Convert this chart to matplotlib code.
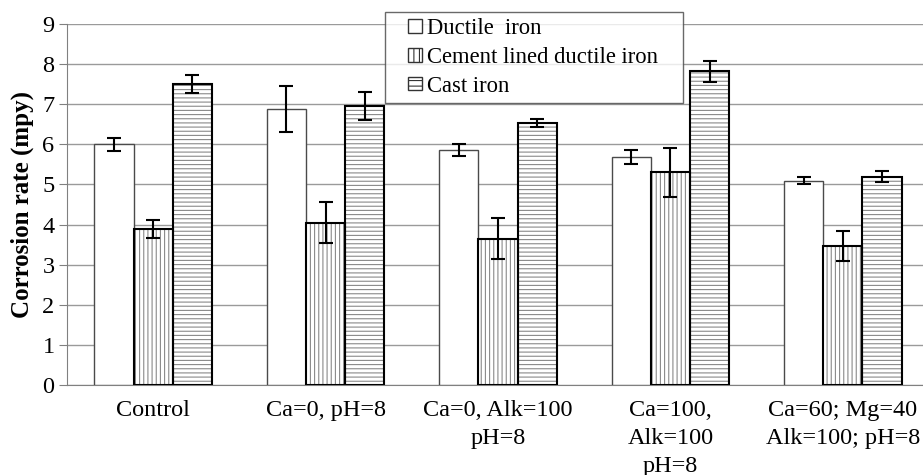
import matplotlib
matplotlib.use("Agg")
import matplotlib.pyplot as plt
import numpy as np
from matplotlib.patches import Patch, Rectangle
from matplotlib.legend_handler import HandlerPatch

plt.rcParams['font.family'] = ['Liberation Serif', 'DejaVu Serif']
plt.rcParams['hatch.linewidth'] = 0.8

categories = ["Control", "Ca=0, pH=8", "Ca=0, Alk=100\npH=8", "Ca=100,\nAlk=100\npH=8", "Ca=60; Mg=40\nAlk=100; pH=8"]
series_names = ["Ductile  iron", "Cement lined ductile iron", "Cast iron"]
ductile = [6.0, 6.88, 5.85, 5.69, 5.09]
ductile_err = [0.17, 0.57, 0.15, 0.17, 0.09]
cement = [3.89, 4.05, 3.65, 5.30, 3.47]
cement_err = [0.22, 0.52, 0.52, 0.62, 0.37]
cast = [7.5, 6.96, 6.52, 7.82, 5.19]
cast_err = [0.22, 0.35, 0.10, 0.27, 0.14]
yticks = list(range(0, 10))

fig = plt.figure(figsize=(9.23, 4.75), dpi=100)
ax = fig.add_axes([67/923, 90/475, (929-67)/923, (385-24)/475])

x = np.arange(len(categories))
w = 0.227
hatch_gray = '#8a8a8a'

ax.bar(x - w, ductile, w, color='white', edgecolor='#4a4a4a', linewidth=1.0, zorder=3)
ax.bar(x, cement, w, color='white', edgecolor=hatch_gray, hatch='||||', linewidth=0, zorder=3)
ax.bar(x, cement, w, fill=False, edgecolor='black', linewidth=1.5, zorder=4)
ax.bar(x + w, cast, w, color='white', edgecolor=hatch_gray, hatch='----', linewidth=0, zorder=3)
ax.bar(x + w, cast, w, fill=False, edgecolor='black', linewidth=1.5, zorder=4)

for off, vals, errs in [(-w, ductile, ductile_err), (0, cement, cement_err), (w, cast, cast_err)]:
    ax.errorbar(x + off, vals, yerr=errs, fmt='none', ecolor='black', elinewidth=1.5,
                capsize=5, capthick=1.5, zorder=5)

ax.set_xlim(-0.5, 4.5)
ax.set_ylim(0, 9)
ax.set_yticks(yticks)
ax.yaxis.grid(True, color='#9a9a9a', linewidth=1.0, zorder=0)
ax.set_axisbelow(True)
for s in ['top', 'right']:
    ax.spines[s].set_visible(False)
ax.spines['left'].set_color('#808080')
ax.spines['bottom'].set_color('#808080')
ax.tick_params(axis='y', colors='#808080', length=6, labelsize=17.5, labelcolor='black', pad=3)
ax.tick_params(axis='x', length=0, labelsize=17.5, pad=11)
ax.set_xticks(x)
ax.set_xticklabels(categories, linespacing=1.42)
ax.set_ylabel("Corrosion rate (mpy)", fontsize=18, fontweight='bold', labelpad=6)


def square_patch(legend, orig_handle, xdescent, ydescent, width, height, fontsize):
    s = height
    return Rectangle((-xdescent + width - s, -ydescent + (height - s) / 2), s, s)


handles = [
    Patch(facecolor='white', edgecolor='#333333', linewidth=1.0),
    Patch(facecolor='white', edgecolor='#333333', hatch='|||', linewidth=1.0),
    Patch(facecolor='white', edgecolor='#333333', hatch='---', linewidth=1.0),
]
leg = fig.legend(handles, series_names, loc='upper left',
                 bbox_to_anchor=(385/923, 1 - 100/475, 298/923, 88/475), mode='expand',
                 fontsize=16.3, frameon=True, fancybox=False, edgecolor='#444444',
                 handlelength=1.35, handleheight=0.55, handletextpad=0.22,
                 borderpad=0.27, labelspacing=0.34, borderaxespad=0,
                 handler_map={Patch: HandlerPatch(patch_func=square_patch)})
leg.get_frame().set_linewidth(1.0)
leg.set_zorder(10)
leg.get_frame().set_facecolor('white')

fig.savefig("out.png", dpi=100)
